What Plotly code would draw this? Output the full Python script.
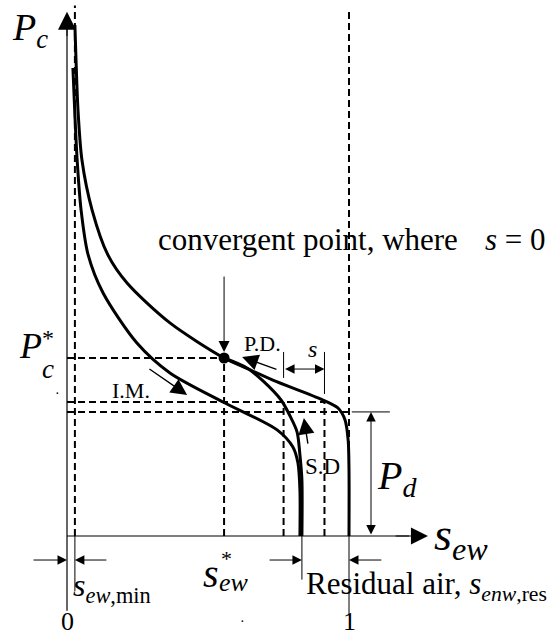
import plotly.graph_objects as go

# ---------------------------------------------------------------
# Capillary pressure - saturation curves
# s_ew : effective wetting saturation, Pc : capillary pressure (in units of Pc*)
# ---------------------------------------------------------------
# primary drainage (P.D.)
pd_s = [0.028, 0.032, 0.039, 0.053, 0.089, 0.145, 0.213, 0.365, 0.557,
        0.640, 0.730, 0.908, 0.961, 0.986, 0.997, 1.000, 1.000]
pd_pc = [2.871, 2.674, 2.393, 2.112, 1.831, 1.579, 1.421, 1.197, 1.000,
         0.940, 0.876, 0.764, 0.719, 0.652, 0.539, 0.371, 0.0]

# main imbibition (I.M.)
im_s = [0.021, 0.028, 0.036, 0.050, 0.075, 0.128, 0.248, 0.365, 0.553,
        0.745, 0.801, 0.819, 0.826, 0.826]
im_pc = [2.629, 2.365, 2.112, 1.831, 1.579, 1.365, 1.084, 0.916, 0.753,
         0.596, 0.500, 0.410, 0.258, 0.0]

# secondary drainage (S.D), starting from the convergent point
sd_s = [0.557, 0.638, 0.695, 0.759, 0.791, 0.816, 0.826, 0.833, 0.833]
sd_pc = [1.000, 0.944, 0.871, 0.764, 0.674, 0.584, 0.455, 0.315, 0.0]

# characteristic values
s_min = 0.028        # s_ew,min
s_star = 0.557       # s*_ew
pc_star = 1.0        # Pc*
s_res = 0.833        # end of the wetting branches (residual air)
pc_gap = 0.753       # level where the gap s is measured
s_gap_sd = 0.768
s_gap_pd = 0.913
p_d = 0.697          # displacement (entry) pressure Pd
tick_vals = [0, 1]
tick_text = ["0", "1"]

FONT = "Liberation Serif, Times New Roman, serif"
BLACK = "#000000"

fig = go.Figure()

for xs, ys in [(pd_s, pd_pc), (im_s, im_pc), (sd_s, sd_pc)]:
    fig.add_trace(go.Scatter(
        x=xs, y=ys, mode="lines",
        line=dict(color=BLACK, width=3, shape="spline", smoothing=0.8),
        hoverinfo="skip", showlegend=False))

# convergent point
fig.add_trace(go.Scatter(
    x=[s_star], y=[pc_star], mode="markers",
    marker=dict(color=BLACK, size=11), hoverinfo="skip", showlegend=False))

shapes = []


def seg(x0, y0, x1, y1, dash=None, width=1.0, color=BLACK):
    line = dict(color=color, width=width)
    if dash:
        line["dash"] = dash
    shapes.append(dict(type="line", xref="x", yref="y",
                       x0=x0, y0=y0, x1=x1, y1=y1, line=line, layer="below"))


DASH = "7px,4px"
# dashed guide lines
seg(s_min, 0, s_min, 2.98, DASH, 2)
seg(1, 0, 1, 2.96, DASH, 2)
seg(0, pc_star, s_star, pc_star, DASH, 2)
seg(s_star, 0, s_star, pc_star, DASH, 2)
seg(0, pc_gap, s_gap_pd, pc_gap, DASH, 2)
seg(0, p_d, 1, p_d, DASH, 2)
seg(s_gap_sd, 0, s_gap_sd, pc_gap, DASH, 2)
seg(s_gap_pd, 0, s_gap_pd, pc_gap, DASH, 2)

# axes and thin dimension lines
seg(0, -0.42, 0, 2.87, width=1.2)
seg(0, 0, 1.213, 0, width=1.2)
seg(s_min, 0, s_min, -0.31)
seg(s_res, 0, s_res, -0.245)
seg(1, 0, 1, -0.44)
seg(1.01, p_d, 1.145, p_d)
seg(s_gap_sd, 0.888, s_gap_sd, 1.034)
seg(s_gap_pd, 0.798, s_gap_pd, 1.034)

annotations = []


def arrow(x0, y0, x1, y1, size=2.0, width=1.0, both=False, head=2):
    a = dict(x=x1, y=y1, ax=x0, ay=y0, xref="x", yref="y", axref="x", ayref="y",
             text="", showarrow=True, arrowhead=head, arrowsize=size,
             arrowwidth=width, arrowcolor=BLACK)
    if both:
        a.update(arrowside="end+start", startarrowhead=head, startarrowsize=size)
    annotations.append(a)


def label(x, y, text, size, xanchor="left", yanchor="middle"):
    annotations.append(dict(x=x, y=y, xref="x", yref="y", text=text,
                            showarrow=False, xanchor=xanchor, yanchor=yanchor,
                            font=dict(family=FONT, size=size, color=BLACK)))


# axis arrow heads
arrow(0, 2.80, 0, 2.945, size=3.6)
arrow(1.16, 0, 1.28, 0, size=3.4)

# pointers
arrow(s_star, 1.466, s_star, 1.034, size=2.2)
arrow(0.748, 0.933, 0.621, 1.006, size=2.3, width=1.4)
arrow(0.287, 0.944, 0.426, 0.792, size=2.3, width=1.4)
arrow(0.855, 0.511, 0.840, 0.663, size=2.3, width=1.4)

# dimension arrows
arrow(s_gap_sd, 0.938, s_gap_pd, 0.938, size=1.9, both=True)
arrow(1.078, 0.0, 1.078, p_d, size=1.9, both=True)
arrow(-0.124, -0.135, 0, -0.135, size=1.9)
arrow(0.145, -0.135, s_min, -0.135, size=1.9)
arrow(0.713, -0.135, s_res, -0.135, size=1.9)
arrow(1.12, -0.135, 1, -0.135, size=1.9)

# text
label(-0.202, 2.843, "<i>P<sub>c</sub></i>", 38)
label(-0.177, 1.067, "<i>P</i>", 36)
label(-0.095, 1.112, "*", 24)
label(-0.095, 0.94, "<i>c</i>", 27)
label(1.092, 0.326, "<i>P<sub>d</sub></i>", 40)
label(1.294, -0.01, "<i>s<sub>ew</sub></i>", 46)
label(0.475, -0.213, "<i>s</i>", 40)
label(0.539, -0.127, "*", 22)
label(0.532, -0.262, "<i>ew</i>", 26)
label(0.014, -0.287, "<i>s<sub>ew</sub></i><sub>,min</sub>", 32)
label(0.840, -0.281, "Residual air, <i>s<sub>enw</sub></i><sub>,res</sub>", 31)
for v, t in zip(tick_vals, tick_text):
    label(v, -0.483, t, 26, xanchor="center")
label(0.621, 1.084, "P.D.", 22)
label(0.152, 0.820, "I.M.", 22)
label(0.837, 0.388, "S.D", 23)
label(0.872, 1.051, "<i>s</i>", 24, xanchor="center")
label(1.394, 1.663, "convergent point, where", 31, xanchor="right")
label(1.706, 1.663, "<i>s</i> = 0", 31, xanchor="right")
label(-0.035, 0.80, "·", 14, xanchor="center")
label(0.621, -0.478, "·", 14, xanchor="center")

fig.update_layout(
    width=555, height=638, autosize=False,
    margin=dict(l=0, r=0, t=0, b=0, pad=0),
    paper_bgcolor="white", plot_bgcolor="white",
    xaxis=dict(range=[-67 / 282, 488 / 282], visible=False, fixedrange=True),
    yaxis=dict(range=[-102 / 178, 536 / 178], visible=False, fixedrange=True),
    shapes=shapes, annotations=annotations, showlegend=False,
)

fig.write_html("out.html")
